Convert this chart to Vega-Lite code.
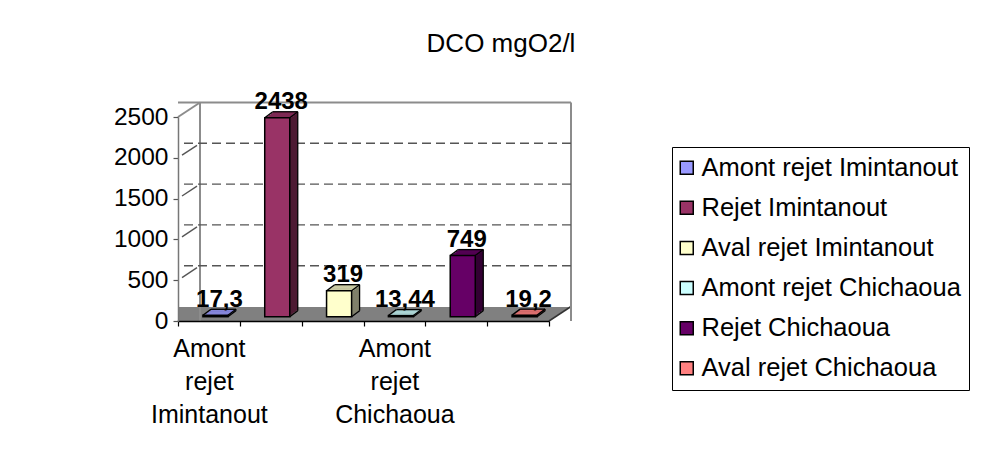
{
  "$schema": "https://vega.github.io/schema/vega-lite/v6.json",
  "width": 371,
  "height": 204,
  "autosize": {"type": "none"},
  "padding": {"left": 178, "top": 117, "right": 432, "bottom": 129},
  "background": "white",
  "config": {
    "font": "Liberation Sans",
    "locale": {"number": {"decimal": ",", "thousands": " ", "grouping": [3], "currency": ["", " €"]}},
    "view": {"stroke": null}
  },
  "title": {
    "text": "DCO mgO2/l",
    "font": "Liberation Sans",
    "fontSize": 26,
    "fontWeight": "normal",
    "color": "#000000",
    "anchor": "middle",
    "frame": "group",
    "offset": 0,
    "baseline": "alphabetic",
    "dx": 137.5,
    "dy": -12
  },
  "data": {
    "values": [
      {"site": "Amont rejet Imintanout", "dco": 17.3},
      {"site": "Rejet Imintanout", "dco": 2438},
      {"site": "Aval rejet Imintanout", "dco": 319},
      {"site": "Amont rejet Chichaoua", "dco": 13.44},
      {"site": "Rejet Chichaoua", "dco": 749},
      {"site": "Aval rejet Chichaoua", "dco": 19.2}
    ]
  },
  "layer": [
    {"data": {"values": [{"part": "floor"}]},
     "mark": {"type": "rule", "color": "#808080", "strokeWidth": 2.2, "strokeCap": "butt", "xOffset": 1.5, "x2Offset": 1.5, "yOffset": -1},
     "encoding": {"y": {"datum": 0, "type": "quantitative"}}},
    {"data": {"values": [{"part": "floor"}]},
     "mark": {"type": "rule", "color": "#808080", "strokeWidth": 2.2, "strokeCap": "butt", "xOffset": 4.55, "x2Offset": 4.55, "yOffset": -3},
     "encoding": {"y": {"datum": 0, "type": "quantitative"}}},
    {"data": {"values": [{"part": "floor"}]},
     "mark": {"type": "rule", "color": "#808080", "strokeWidth": 2.2, "strokeCap": "butt", "xOffset": 7.6, "x2Offset": 7.6, "yOffset": -5},
     "encoding": {"y": {"datum": 0, "type": "quantitative"}}},
    {"data": {"values": [{"part": "floor"}]},
     "mark": {"type": "rule", "color": "#808080", "strokeWidth": 2.2, "strokeCap": "butt", "xOffset": 10.6, "x2Offset": 10.6, "yOffset": -7},
     "encoding": {"y": {"datum": 0, "type": "quantitative"}}},
    {"data": {"values": [{"part": "floor"}]},
     "mark": {"type": "rule", "color": "#808080", "strokeWidth": 2.2, "strokeCap": "butt", "xOffset": 13.65, "x2Offset": 13.65, "yOffset": -9},
     "encoding": {"y": {"datum": 0, "type": "quantitative"}}},
    {"data": {"values": [{"part": "floor"}]},
     "mark": {"type": "rule", "color": "#808080", "strokeWidth": 2.2, "strokeCap": "butt", "xOffset": 16.7, "x2Offset": 16.7, "yOffset": -11},
     "encoding": {"y": {"datum": 0, "type": "quantitative"}}},
    {"data": {"values": [{"part": "floor"}]},
     "mark": {"type": "rule", "color": "#808080", "strokeWidth": 2.2, "strokeCap": "butt", "xOffset": 19.7, "x2Offset": 19.7, "yOffset": -13},
     "encoding": {"y": {"datum": 0, "type": "quantitative"}}},
    {"data": {"values": [{"part": "floor edge"}]},
     "mark": {"type": "rule", "color": "#808080", "strokeWidth": 1.5, "x2Offset": 22, "y2Offset": -14.5},
     "encoding": {"x": {"value": 0}, "x2": {"value": 0}, "y": {"datum": 0, "type": "quantitative"}, "y2": {"datum": 0}}},
    {"data": {"values": [{"part": "floor edge"}]},
     "mark": {"type": "rule", "color": "#333333", "strokeWidth": 1.5, "x2Offset": 22, "y2Offset": -14.5},
     "encoding": {"x": {"value": "width"}, "x2": {"value": "width"}, "y": {"datum": 0, "type": "quantitative"}, "y2": {"datum": 0}}},
    {"data": {"values": [{"part": "back wall"}]},
     "mark": {"type": "rule", "color": "#8c8c8c", "strokeWidth": 2, "xOffset": 22, "yOffset": -14.5, "y2Offset": -14.5},
     "encoding": {"x": {"value": 0}}},
    {"data": {"values": [{"part": "back wall"}]},
     "mark": {"type": "rule", "color": "#8c8c8c", "strokeWidth": 2, "xOffset": 22, "yOffset": -14.5, "y2Offset": -14.5},
     "encoding": {"x": {"value": "width"}}},
    {"data": {"values": [{"part": "back wall"}]},
     "mark": {"type": "rule", "color": "#8c8c8c", "strokeWidth": 2, "xOffset": 22, "x2Offset": 22, "yOffset": -14.5},
     "encoding": {"y": {"datum": 2500, "type": "quantitative"}}},
    {"data": {"values": [{"part": "side wall"}]},
     "mark": {"type": "rule", "color": "#8c8c8c", "strokeWidth": 2, "x2Offset": 22, "y2Offset": -14.5},
     "encoding": {"x": {"value": 0}, "x2": {"value": 0}, "y": {"datum": 2500, "type": "quantitative"}, "y2": {"datum": 2500}}},
    {"data": {"values": [{"level": 500}, {"level": 1000}, {"level": 1500}, {"level": 2000}]},
     "mark": {"type": "rule", "color": "#555555", "strokeWidth": 1.4, "strokeDash": [9, 5], "xOffset": 22, "x2Offset": 22, "yOffset": -14.5},
     "encoding": {"y": {"field": "level", "type": "quantitative"}}},
    {"data": {"values": [{"level": 500}, {"level": 1000}, {"level": 1500}, {"level": 2000}]},
     "mark": {"type": "rule", "color": "#555555", "strokeWidth": 1.4, "xOffset": 4, "yOffset": -2.6, "x2Offset": 19, "y2Offset": -12.5},
     "encoding": {"x": {"value": 0}, "x2": {"value": 0}, "y": {"field": "level", "type": "quantitative"}, "y2": {"field": "level"}}},

    {"mark": {"type": "bar", "width": {"band": 0.405}, "xOffset": 14.5, "yOffset": -10.3, "y2Offset": -10.3},
     "encoding": {
       "x": {"field": "site", "type": "nominal", "sort": null},
       "y": {"field": "dco", "type": "quantitative"},
       "color": {"condition": [{"test": "datum.site === 'Amont rejet Imintanout'", "value": "#4d4d80"}, {"test": "datum.site === 'Rejet Imintanout'", "value": "#4d1a33"}, {"test": "datum.site === 'Aval rejet Imintanout'", "value": "#80806a"}, {"test": "datum.site === 'Amont rejet Chichaoua'", "value": "#668080"}, {"test": "datum.site === 'Rejet Chichaoua'", "value": "#330033"}], "value": "#804040"}}},
    {"mark": {"type": "bar", "width": {"band": 0.405}, "xOffset": 12.5, "yOffset": -8.8, "y2Offset": -8.8},
     "encoding": {
       "x": {"field": "site", "type": "nominal", "sort": null},
       "y": {"field": "dco", "type": "quantitative"},
       "color": {"condition": [{"test": "datum.site === 'Amont rejet Imintanout'", "value": "#4d4d80"}, {"test": "datum.site === 'Rejet Imintanout'", "value": "#4d1a33"}, {"test": "datum.site === 'Aval rejet Imintanout'", "value": "#80806a"}, {"test": "datum.site === 'Amont rejet Chichaoua'", "value": "#668080"}, {"test": "datum.site === 'Rejet Chichaoua'", "value": "#330033"}], "value": "#804040"}}},
    {"mark": {"type": "bar", "width": {"band": 0.405}, "xOffset": 10.5, "yOffset": -7.3, "y2Offset": -7.3},
     "encoding": {
       "x": {"field": "site", "type": "nominal", "sort": null},
       "y": {"field": "dco", "type": "quantitative"},
       "color": {"condition": [{"test": "datum.site === 'Amont rejet Imintanout'", "value": "#4d4d80"}, {"test": "datum.site === 'Rejet Imintanout'", "value": "#4d1a33"}, {"test": "datum.site === 'Aval rejet Imintanout'", "value": "#80806a"}, {"test": "datum.site === 'Amont rejet Chichaoua'", "value": "#668080"}, {"test": "datum.site === 'Rejet Chichaoua'", "value": "#330033"}], "value": "#804040"}}},
    {"mark": {"type": "bar", "width": {"band": 0.405}, "xOffset": 8.5, "yOffset": -5.8, "y2Offset": -5.8},
     "encoding": {
       "x": {"field": "site", "type": "nominal", "sort": null},
       "y": {"field": "dco", "type": "quantitative"},
       "color": {"condition": [{"test": "datum.site === 'Amont rejet Imintanout'", "value": "#4d4d80"}, {"test": "datum.site === 'Rejet Imintanout'", "value": "#4d1a33"}, {"test": "datum.site === 'Aval rejet Imintanout'", "value": "#80806a"}, {"test": "datum.site === 'Amont rejet Chichaoua'", "value": "#668080"}, {"test": "datum.site === 'Rejet Chichaoua'", "value": "#330033"}], "value": "#804040"}}},

    {"mark": {"type": "tick", "size": 25, "thickness": 1.9, "xOffset": 14.5, "yOffset": -9.4},
     "encoding": {
       "x": {"field": "site", "type": "nominal", "sort": null},
       "y": {"field": "dco", "type": "quantitative"},
       "color": {"condition": [{"test": "datum.site === 'Amont rejet Imintanout'", "value": "#9494f5"}, {"test": "datum.site === 'Rejet Imintanout'", "value": "#8f2f5f"}, {"test": "datum.site === 'Aval rejet Imintanout'", "value": "#e0e0b5"}, {"test": "datum.site === 'Amont rejet Chichaoua'", "value": "#bfeeee"}, {"test": "datum.site === 'Rejet Chichaoua'", "value": "#5e005e"}], "value": "#f57a7a"}}},
    {"mark": {"type": "tick", "size": 25, "thickness": 1.9, "xOffset": 12.5, "yOffset": -7.9},
     "encoding": {
       "x": {"field": "site", "type": "nominal", "sort": null},
       "y": {"field": "dco", "type": "quantitative"},
       "color": {"condition": [{"test": "datum.site === 'Amont rejet Imintanout'", "value": "#9494f5"}, {"test": "datum.site === 'Rejet Imintanout'", "value": "#8f2f5f"}, {"test": "datum.site === 'Aval rejet Imintanout'", "value": "#e0e0b5"}, {"test": "datum.site === 'Amont rejet Chichaoua'", "value": "#bfeeee"}, {"test": "datum.site === 'Rejet Chichaoua'", "value": "#5e005e"}], "value": "#f57a7a"}}},
    {"mark": {"type": "tick", "size": 25, "thickness": 1.9, "xOffset": 10.5, "yOffset": -6.4},
     "encoding": {
       "x": {"field": "site", "type": "nominal", "sort": null},
       "y": {"field": "dco", "type": "quantitative"},
       "color": {"condition": [{"test": "datum.site === 'Amont rejet Imintanout'", "value": "#9494f5"}, {"test": "datum.site === 'Rejet Imintanout'", "value": "#8f2f5f"}, {"test": "datum.site === 'Aval rejet Imintanout'", "value": "#e0e0b5"}, {"test": "datum.site === 'Amont rejet Chichaoua'", "value": "#bfeeee"}, {"test": "datum.site === 'Rejet Chichaoua'", "value": "#5e005e"}], "value": "#f57a7a"}}},
    {"mark": {"type": "tick", "size": 25, "thickness": 1.9, "xOffset": 8.5, "yOffset": -4.9},
     "encoding": {
       "x": {"field": "site", "type": "nominal", "sort": null},
       "y": {"field": "dco", "type": "quantitative"},
       "color": {"condition": [{"test": "datum.site === 'Amont rejet Imintanout'", "value": "#9494f5"}, {"test": "datum.site === 'Rejet Imintanout'", "value": "#8f2f5f"}, {"test": "datum.site === 'Aval rejet Imintanout'", "value": "#e0e0b5"}, {"test": "datum.site === 'Amont rejet Chichaoua'", "value": "#bfeeee"}, {"test": "datum.site === 'Rejet Chichaoua'", "value": "#5e005e"}], "value": "#f57a7a"}}},

    {"mark": {"type": "rule", "color": "#000000", "strokeWidth": 1.3, "xOffset": -6, "x2Offset": 2, "yOffset": -4.3, "y2Offset": -10.3},
     "encoding": {"x": {"field": "site", "type": "nominal", "sort": null}, "x2": {"field": "site"}, "y": {"field": "dco", "type": "quantitative"}, "y2": {"field": "dco"}}},
    {"mark": {"type": "rule", "color": "#000000", "strokeWidth": 1.3, "xOffset": 19, "x2Offset": 27, "yOffset": -4.3, "y2Offset": -10.3},
     "encoding": {"x": {"field": "site", "type": "nominal", "sort": null}, "x2": {"field": "site"}, "y": {"field": "dco", "type": "quantitative"}, "y2": {"field": "dco"}}},
    {"mark": {"type": "rule", "color": "#000000", "strokeWidth": 1.3, "xOffset": 2, "x2Offset": 27, "yOffset": -10.3, "y2Offset": -10.3},
     "encoding": {"x": {"field": "site", "type": "nominal", "sort": null}, "x2": {"field": "site"}, "y": {"field": "dco", "type": "quantitative"}, "y2": {"field": "dco"}}},
    {"mark": {"type": "rule", "color": "#000000", "strokeWidth": 1.3, "xOffset": 27, "x2Offset": 27, "yOffset": -10.3, "y2Offset": -10.3},
     "encoding": {"x": {"field": "site", "type": "nominal", "sort": null}, "x2": {"field": "site"}, "y": {"field": "dco", "type": "quantitative"}, "y2": {"datum": 0}}},
    {"mark": {"type": "rule", "color": "#000000", "strokeWidth": 1.3, "xOffset": 19, "x2Offset": 27, "yOffset": -4.3, "y2Offset": -10.3},
     "encoding": {"x": {"field": "site", "type": "nominal", "sort": null}, "x2": {"field": "site"}, "y": {"datum": 0, "type": "quantitative"}, "y2": {"datum": 0}}},

    {"mark": {"type": "bar", "width": {"band": 0.405}, "xOffset": 6.5, "yOffset": -4.3, "y2Offset": -4.3, "stroke": "#000000", "strokeWidth": 1.5},
     "encoding": {
       "x": {"field": "site", "type": "nominal", "sort": null,
         "scale": {"paddingInner": 0, "paddingOuter": 0},
         "axis": {"title": null, "orient": "bottom", "zindex": 1, "grid": false, "domainColor": "#000000", "domainWidth": 1.5, "tickColor": "#000000", "tickWidth": 1.2, "tickSize": 5, "tickBand": "extent", "labelAngle": 0, "labelAlign": "center", "labelFont": "Liberation Sans", "labelFontSize": 25, "labelColor": "#000000", "labelPadding": 10, "labelLineHeight": 33, "labelBaseline": "top", "labelOverlap": false, "labelLimit": 300,
           "labelExpr": "datum.label == 'Amont rejet Imintanout' || datum.label == 'Amont rejet Chichaoua' ? split(datum.label, ' ') : ''"}},
       "y": {"field": "dco", "type": "quantitative",
         "scale": {"domain": [0, 2500], "nice": false, "zero": true},
         "axis": {"title": null, "orient": "left", "zindex": 1, "grid": false, "values": [0, 500, 1000, 1500, 2000, 2500], "format": "d", "domainColor": "#777777", "domainWidth": 1.5, "tickColor": "#555555", "tickWidth": 1.2, "tickSize": 5, "labelFont": "Liberation Sans", "labelFontSize": 24.5, "labelColor": "#000000", "labelPadding": 5}},
       "color": {"field": "site", "type": "nominal", "title": null,
         "scale": {"domain": ["Amont rejet Imintanout", "Rejet Imintanout", "Aval rejet Imintanout", "Amont rejet Chichaoua", "Rejet Chichaoua", "Aval rejet Chichaoua"], "range": ["#9999ff", "#993366", "#ffffcc", "#ccffff", "#660066", "#ff8080"]},
         "legend": {"orient": "none", "legendX": 494, "legendY": 30, "title": null, "symbolType": "square", "symbolSize": 169, "symbolStrokeColor": "#000000", "symbolStrokeWidth": 1.5, "symbolOpacity": 1, "symbolOffset": -6, "labelFont": "Liberation Sans", "labelFontSize": 25.5, "labelColor": "#000000", "labelOffset": 2, "labelLimit": 400, "rowPadding": 13.1, "padding": 8, "strokeColor": "#000000", "fillColor": "#ffffff", "cornerRadius": 0}}}},

    {"mark": {"type": "text", "font": "Liberation Sans", "fontSize": 24, "fontWeight": "bold", "color": "#000000", "baseline": "alphabetic", "align": "center", "xOffset": 10.5, "yOffset": -12.8},
     "encoding": {
       "x": {"field": "site", "type": "nominal", "sort": null},
       "y": {"field": "dco", "type": "quantitative"},
       "text": {"field": "dco", "type": "quantitative", "format": "~g"}}}
  ]
}
